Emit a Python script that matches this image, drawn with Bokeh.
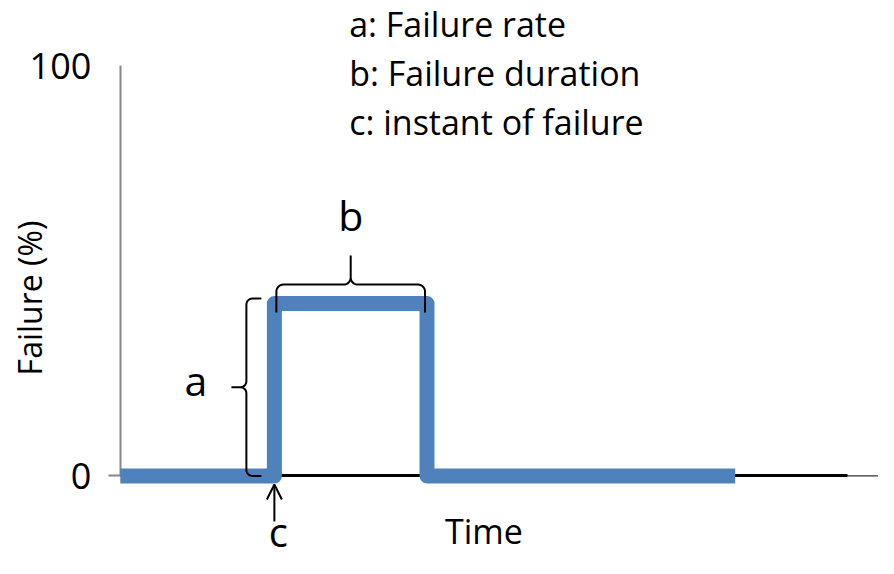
import numpy as np
from bokeh.plotting import figure
from bokeh.models import Range1d, LinearAxis, FixedTicker, Arrow, OpenHead
from bokeh.core.properties import value
from bokeh.embed import file_html
from bokeh.resources import INLINE

# ---------------- data ----------------
time = [0, 21.2, 21.2, 42.2, 42.2, 84.6]
failure = [0, 0, 42, 42, 0, 0]
y_ticks = [0, 100]
legend_lines = ["a: Failure rate", "b: Failure duration", "c: instant of failure"]
brace_labels = ["a", "b", "c"]
y_title = ["Failure (%)"]
pulse_start, pulse_end, pulse_height = 21.2, 42.2, 42

# ---------------- layout ----------------
FONT = "Open Sans"
W, H = 878, 558
x0_px, x100_px = 119.8, 846.6   # screen x of time 0 and 100
y0_px, y100_px = 475.4, 65.1    # screen y (from top) of failure 0 and 100
sx = (x100_px - x0_px) / 100.0
sy = (y0_px - y100_px) / 100.0


def xd(px):   # screen x -> data x
    return (px - x0_px) / sx


def yd(py):   # screen y (from top) -> data y
    return (y0_px - py) / sy


p = figure(width=W, height=H,
           x_range=Range1d(xd(0), xd(W)),
           y_range=Range1d(yd(H), yd(0)),
           output_backend="svg", toolbar_location=None,
           x_axis_location=None, y_axis_location=None,
           min_border=0, outline_line_color=None,
           background_fill_color="white", border_fill_color="white")
p.xgrid.grid_line_color = None
p.ygrid.grid_line_color = None

yax = LinearAxis(fixed_location=0, bounds=(0, 100),
                 ticker=FixedTicker(ticks=y_ticks, minor_ticks=[0]),
                 axis_line_color="#868686", axis_line_width=2,
                 major_tick_line_color=None,
                 minor_tick_line_color="#868686", minor_tick_line_width=2,
                 minor_tick_in=0, minor_tick_out=12,
                 major_tick_in=0, major_tick_out=0,
                 major_label_text_font=FONT, major_label_text_font_size="36px",
                 major_label_text_color="black", major_label_standoff=17,
                 level="underlay")
p.add_layout(yax, "left")

xax = LinearAxis(fixed_location=0, bounds=(0, 100),
                 ticker=FixedTicker(ticks=[]),
                 axis_line_color="black", axis_line_width=3,
                 major_tick_line_color=None, minor_tick_line_color=None,
                 major_label_text_font_size="0px",
                 axis_label="Time", axis_label_text_font=FONT,
                 axis_label_text_font_size="34px", axis_label_text_font_style="normal",
                 axis_label_text_color="black", axis_label_standoff=32,
                 level="underlay")
p.add_layout(xax, "below")

# y-axis title (rotated)
p.text([xd(28.8)], [yd(297.5)], text=y_title, angle=np.pi / 2,
       text_font=value(FONT), text_font_size="32px",
       text_align="center", text_baseline="middle", text_color="black")

# thin continuation of the baseline
p.line([100, p.x_range.end], [0, 0], line_color="black", line_width=1)

# the failure pulse
p.line(time, failure, line_color="#4f81bd", line_width=15,
       line_join="round", line_cap="butt")


def brace(A, B, n, hook, tip, r=6, k=8):
    """Curly brace from A to B (pixel space, y up); hooks point along n."""
    A = np.asarray(A, float); B = np.asarray(B, float); n = np.asarray(n, float)
    L = np.linalg.norm(B - A)
    d = (B - A) / L
    pts = [(0, hook), (0, r)]

    def arc(c, a0, a1):
        for a in np.linspace(np.radians(a0), np.radians(a1), k)[1:]:
            pts.append((c[0] + r * np.cos(a), c[1] + r * np.sin(a)))
    arc((r, r), 180, 270)
    pts.append((L / 2 - r, 0))
    arc((L / 2 - r, -r), 90, 0)
    pts.append((L / 2, -tip))
    pts.append((L / 2, -r))
    arc((L / 2 + r, -r), 180, 90)
    pts.append((L - r, 0))
    arc((L - r, r), 270, 360)
    pts.append((L, hook))
    xs, ys = [], []
    for t, u in pts:
        q = A + t * d + u * n
        xs.append(q[0] / sx)
        ys.append(q[1] / sy)
    return xs, ys


# brace a (height of the pulse)
stem = pulse_start * sx - 28
ax_, ay_ = brace((stem, 0), (stem, pulse_height * sy + 5), (1, 0), hook=15, tip=15)
p.line(ax_, ay_, line_color="black", line_width=2)
# brace b (duration of the pulse)
top_b = pulse_height * sy + 19
bx_, by_ = brace((pulse_start * sx + 2, top_b), (pulse_end * sx - 2, top_b),
                 (0, -1), hook=28, tip=29, r=7)
p.line(bx_, by_, line_color="black", line_width=2)

# arrow c (instant of failure)
p.add_layout(Arrow(end=OpenHead(size=15, line_width=2, line_color="black"),
                   x_start=pulse_start, y_start=yd(521),
                   x_end=pulse_start, y_end=yd(484),
                   line_width=2, line_color="black"))

# brace labels (a, b at 41px; c slightly smaller to stay inside the page)
p.text([xd(195.4), (pulse_start + pulse_end) / 2], [yd(379.7), yd(214.4)],
       text=brace_labels[:2], text_font=value(FONT), text_font_size="41px",
       text_align="center", text_baseline="middle", text_color="black")
p.text([pulse_start + 4 / sx], [yd(531)], text=brace_labels[2:],
       text_font=value(FONT), text_font_size="40px",
       text_align="center", text_baseline="middle", text_color="black")

# explanation list
leg_x = [xd(355 * 878 / 894)] * 3
leg_y = [yd(23.7), yd(72.7), yd(121.7)]
p.text(leg_x, leg_y, text=legend_lines, text_font=value(FONT), text_font_size="34px",
       text_align="left", text_baseline="middle", text_color="black")

open("out.html", "w").write(file_html(p, INLINE))
